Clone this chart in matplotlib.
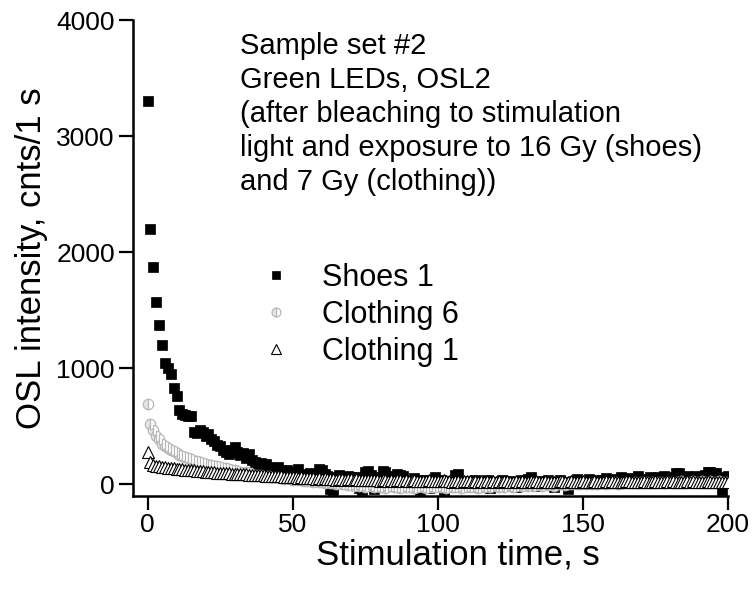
import matplotlib
matplotlib.use("Agg")
import matplotlib.pyplot as plt
import numpy as np

plt.rcParams["font.family"] = ["Liberation Sans", "DejaVu Sans"]

# stimulation time, 1 s channels
time_s = list(range(0, 201))

shoes_1 = [
    3300, 2200, 1870, 1570, 1370, 1200, 1050, 1000, 950, 830,
    760, 640, 610, 600, 585, 590, 450, 440, 470, 455,
    420, 430, 390, 370, 340, 330, 300, 275, 265, 300,
    320, 280, 250, 270, 230, 260, 210, 190, 170, 185,
    160, 175, 150, 140, 130, 150, 120, 110, 125, 100,
    95, 110, 130, 85, 90, 70, 95, 60, 80, 130,
    125, 90, 70, -40, -50, 60, 80, 55, 45, 70,
    60, 40, 65, -35, -45, 110, 115, 80, -40, 60,
    45, 115, 105, 70, 40, 50, 90, 85, 75, 30,
    40, 20, 55, 35, -50, 25, 40, -30, 30, 60,
    20, 35, -50, 15, 30, 10, 85, 90, 25, 5,
    -20, 30, 15, 40, -10, 20, 5, 35, -30, 10,
    25, 0, 40, -15, 20, 30, 10, -25, 15, 35,
    10, 45, 60, 20, -10, 5, 30, 15, 40, 25,
    -20, 10, 35, 20, 5, -40, 15, 30, 45, 20,
    10, 25, 50, 20, 0, 35, 15, 40, 55, 30,
    20, 45, 30, 60, 25, 40, 55, 30, 45, 70,
    35, 50, 40, 65, 45, 30, 60, 50, 70, 40,
    55, 60, 100, 95, 45, 50, 70, 40, 65, 75,
    50, 60, 80, 110, 105, 100, 95, 60, -45, 50,
    70,
]

clothing_6 = [
    690, 520, 470, 420, 390, 350, 330, 310, 300, 285,
    270, 255, 245, 235, 225, 215, 205, 200, 190, 185,
    180, 170, 165, 160, 155, 150, 145, 140, 130, 125,
    120, 115, 110, 100, 105, 95, 90, 85, 80, 85,
    75, 70, 72, 65, 60, 62, 55, 50, 52, 45,
    40, 45, 38, 35, 30, 32, 28, 25, 30, 20,
    22, 15, 18, 10, 12, 5, 8, 0, 5, -5,
    0, -10, 5, -15, -5, -20, 0, -10, -25, -15,
    -20, -5, -30, -15, -10, -25, -20, -30, -15, -25,
    -20, -10, -30, -25, -15, -20, -35, -10, -25, -20,
    -15, -25, -20, -30, -10, -20, -25, -15, -30, -20,
    -10, -25, -15, -20, -30, -10, -20, -15, -25, -5,
    -15, -20, -10, -25, -5, -15, -20, -10, 0, -15,
    -5, -10, 5, -15, -5, 0, -10, 5, -5, 0,
    -10, 5, 0, 10, -5, 5, 0, 10, 5, 0,
    10, 5, 15, 0, 10, 5, 15, 10, 5, 15,
    10, 20, 5, 15, 10, 20, 15, 10, 20, 15,
    20, 10, 25, 15, 20, 10, 25, 20, 15, 25,
    20, 15, 25, 20, 30, 15, 25, 20, 30, 25,
    20, 30, 25, 15, 30, 25, 20, 30, 25, 20,
    25,
]

clothing_1 = [
    280, 190, 165, 160, 155, 150, 148, 145, 140, 138,
    135, 132, 130, 128, 125, 123, 120, 118, 115, 113,
    110, 108, 106, 104, 102, 100, 98, 96, 95, 93,
    92, 90, 88, 87, 86, 85, 83, 82, 80, 79,
    78, 76, 75, 74, 72, 70, 69, 68, 66, 65,
    64, 60, 58, 62, 55, 57, 52, 54, 50, 56,
    48, 52, 45, 50, 47, 42, 48, 44, 40, 46,
    43, 38, 44, 40, 36, 42, 38, 35, 40, 37,
    33, 38, 35, 30, 36, 32, 40, 34, 30, 35,
    32, 28, 34, 30, 26, 32, 29, 35, 31, 27,
    30, 26, 38, 32, 28, 25, 30, 27, 24, 29,
    26, 30, 24, 28, 23, 27, 25, 29, 22, 26,
    24, 28, 22, 33, 27, 25, 22, 26, 23, 27,
    24, 21, 26, 23, 28, 25, 22, 27, 24, 20,
    25, 22, 26, 30, 24, 21, 27, 23, 25, 22,
    26, 23, 20, 25, 28, 22, 24, 21, 26, 23,
    27, 24, 20, 25, 22, 26, 30, 24, 21, 25,
    22, 26, 23, 20, 25, 28, 22, 24, 21, 26,
    23, 27, 24, 21, 25, 22, 26, 23, 30, 24,
    21, 25, 22, 26, 23, 20, 25, 22, 24, 21,
    25,
]

x_ticks = [0, 50, 100, 150, 200]
y_ticks = [0, 1000, 2000, 3000, 4000]

note = ("Sample set #2\n"
        "Green LEDs, OSL2\n"
        "(after bleaching to stimulation\n"
        "light and exposure to 16 Gy (shoes)\n"
        "and 7 Gy (clothing))")

fig = plt.figure(figsize=(7.54, 5.90), dpi=100)
ax = fig.add_axes([0.1764, 0.1593, 0.789, 0.8067])

ax.plot(time_s, shoes_1, ls="none", marker="s", ms=6.5,
        mfc="black", mec="black", mew=0.5, label="Shoes 1")
ax.plot(time_s, clothing_6, ls="none", marker="o", ms=7.5, fillstyle="left",
        mfc="#e6e6e6", mfcalt="white", mec="#b8b8b8", mew=0.9,
        label="Clothing 6")
ax.plot(time_s, clothing_1, ls="none", marker="^", ms=8,
        mfc="white", mec="black", mew=0.8, label="Clothing 1")

ax.set_xlim(-5, 200)
ax.set_ylim(-100, 4000)
ax.set_xticks(x_ticks)
ax.set_yticks(y_ticks)

for side in ["top", "right"]:
    ax.spines[side].set_visible(False)
for side in ["left", "bottom"]:
    ax.spines[side].set_linewidth(1.8)
ax.tick_params(direction="out", length=10, width=1.6, labelsize=19, pad=3)
ax.tick_params(axis="x", pad=2)

ax.set_xlabel("Stimulation time, s", fontsize=25)
ax.xaxis.set_label_coords(0.546, -0.09)
ax.set_ylabel("OSL intensity, cnts/1 s", fontsize=25, labelpad=6)

ax.text(0.18, 0.974, note, transform=ax.transAxes, fontsize=21,
        va="top", ha="left", linespacing=1.27)

ax.legend(loc="upper left", bbox_to_anchor=(0.215, 0.49), frameon=False,
          fontsize=22, handlelength=1.0, handletextpad=1.0,
          labelspacing=0.23, borderpad=0, borderaxespad=0, markerscale=0.85)

fig.savefig("out.png", dpi=100)
